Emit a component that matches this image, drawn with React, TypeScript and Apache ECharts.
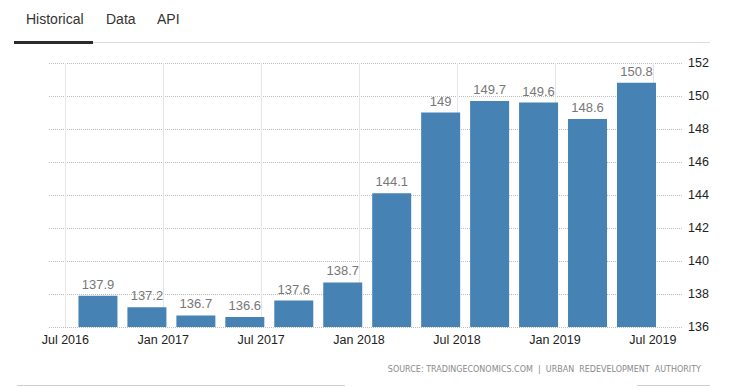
import React, { useEffect, useRef } from "react";
import * as echarts from "echarts";

// months since Jul 2016 for each quarterly bar
const barMonths = [2, 5, 8, 11, 14, 17, 20, 23, 26, 29, 32, 35];
const barValues = [137.9, 137.2, 136.7, 136.6, 137.6, 138.7, 144.1, 149, 149.7, 149.6, 148.6, 150.8];
const tickMonths = [0, 6, 12, 18, 24, 30, 36];
const tickLabels = ["Jul 2016", "Jan 2017", "Jul 2017", "Jan 2018", "Jul 2018", "Jan 2019", "Jul 2019"];
const tabs = ["Historical", "Data", "API"];
const sourceText = "SOURCE: TRADINGECONOMICS.COM  |  URBAN  REDEVELOPMENT  AUTHORITY";

export default function App() {
  const ref = useRef<HTMLDivElement>(null);
  useEffect(() => {
    if (!ref.current) return;
    const chart = echarts.init(ref.current, null, { renderer: "svg" });
    const tabX = [26, 106, 157];
    chart.setOption({
      animation: false,
      backgroundColor: "#fff",
      grid: { left: 49, right: 49, top: 63, bottom: 60, containLabel: false },
      xAxis: {
        type: "value",
        min: -1,
        max: 37.85,
        axisLine: { show: false },
        axisTick: { show: false, customValues: tickMonths },
        axisLabel: {
          customValues: tickMonths,
          formatter: (v: number) => tickLabels[tickMonths.indexOf(Math.round(v))] ?? "",
          color: "#222",
          fontSize: 12.5,
          fontFamily: "Liberation Sans",
          margin: 6,
        },
        splitLine: { show: true, lineStyle: { color: "#e6e6e6", width: 1 } },
      },
      yAxis: {
        type: "value",
        position: "right",
        min: 136,
        max: 152,
        interval: 2,
        axisLine: { show: false },
        axisTick: { show: false },
        axisLabel: { color: "#222", fontSize: 12.5, fontFamily: "Liberation Sans", margin: 5 },
        splitLine: { show: true, lineStyle: { color: "#bdbdbd", type: [1, 1], width: 1 } },
      },
      series: [
        {
          type: "bar",
          barWidth: 39,
          itemStyle: { color: "#4682b4" },
          data: barMonths.map((m, i) => [m, barValues[i]]),
          label: {
            show: true,
            position: "top",
            distance: 5,
            color: "#777",
            fontSize: 13,
            fontFamily: "Liberation Sans",
            formatter: (p: any) => String(p.value[1]),
          },
        },
      ],
      graphic: [
        ...tabs.map((t, i) => ({
          type: "text",
          left: tabX[i],
          top: 12,
          style: { text: t, fill: "#333", fontSize: 14, fontFamily: "Liberation Sans" },
        })),
        { type: "rect", shape: { x: 93, y: 42, width: 617, height: 1 }, style: { fill: "#dcdcdc" } },
        { type: "rect", shape: { x: 14, y: 41, width: 79, height: 3 }, style: { fill: "#2b2b2b" } },
        {
          type: "text",
          right: 31,
          top: 365,
          style: { text: sourceText, fill: "#8a8a8a", fontSize: 8, fontFamily: "DejaVu Sans" },
        },
        { type: "rect", shape: { x: 17, y: 385, width: 328, height: 1 }, style: { fill: "#cfcfcf" } },
        { type: "rect", shape: { x: 637, y: 385, width: 73, height: 1 }, style: { fill: "#cfcfcf" } },
      ],
    });
    return () => chart.dispose();
  }, []);
  return <div ref={ref} style={{ position: "fixed", left: 0, top: 0, width: 732, height: 387 }} />;
}
